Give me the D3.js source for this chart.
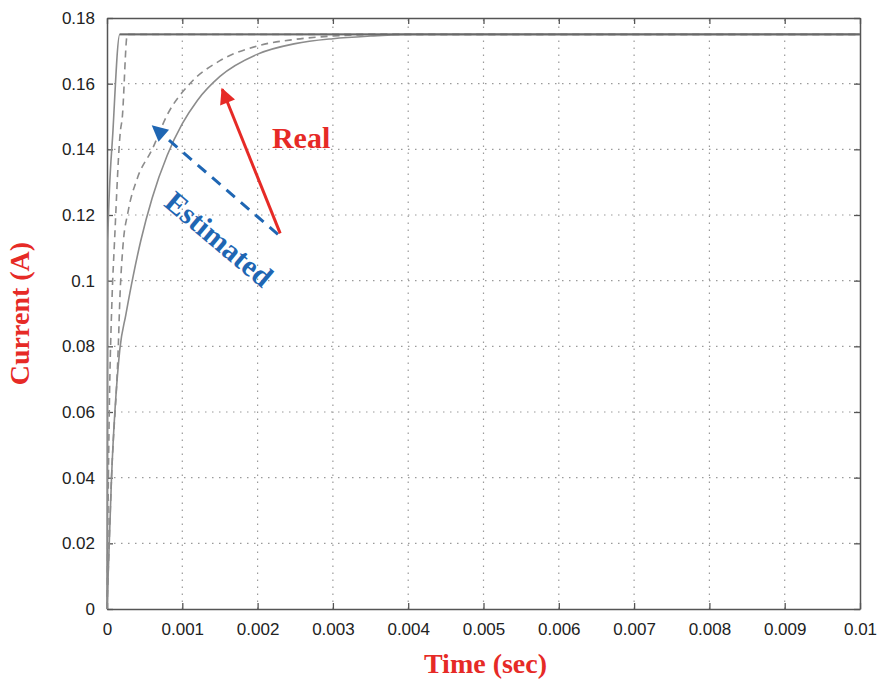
<!DOCTYPE html>
<html>
<head>
<meta charset="utf-8">
<script src="https://cdn.jsdelivr.net/npm/d3@7"></script>
<style>
  html, body { margin: 0; padding: 0; background: #fff; }
  svg { display: block; }
</style>
</head>
<body>
<svg id="chart" width="879" height="680"></svg>
<script>
// Current response of the drive: measured (solid) and observer estimates (dashed)
const xTicks = [0, 0.001, 0.002, 0.003, 0.004, 0.005, 0.006, 0.007, 0.008, 0.009, 0.01];
const yTicks = [0, 0.02, 0.04, 0.06, 0.08, 0.1, 0.12, 0.14, 0.16, 0.18];

// [time (s), current (A)]
const realFast = [[0, 0], [0.00001, 0.112], [0.00008, 0.146], [0.00017, 0.175], [0.01, 0.175]];
const estFast = [[0, 0], [0.00003, 0.06], [0.000066, 0.094], [0.0001, 0.112], [0.00018, 0.146],
                 [0.0002, 0.149], [0.00027, 0.175], [0.01, 0.175]];
const realSlow = [[0, 0], [0.00006, 0.04], [0.00017, 0.079], [0.00025, 0.0896], [0.00035, 0.1017],
                  [0.00045, 0.1123], [0.0006, 0.1252], [0.0008, 0.1382], [0.001, 0.1478],
                  [0.0012, 0.1549], [0.0015, 0.1622], [0.002, 0.169], [0.0025, 0.1722],
                  [0.003, 0.1737], [0.0035, 0.1745], [0.004, 0.175], [0.01, 0.175]];
const estSlow = [[0, 0], [0.00006, 0.04], [0.00015, 0.080], [0.00017, 0.094], [0.00021, 0.110],
                 [0.00028, 0.121], [0.0004, 0.131], [0.0006, 0.140], [0.0008, 0.1505],
                 [0.0011, 0.160], [0.0015, 0.1670], [0.002, 0.1715], [0.0025, 0.1735],
                 [0.003, 0.1745], [0.0036, 0.175], [0.01, 0.175]];

// annotation arrows: [from, to] in data units
const realArrow = [[0.00230, 0.1144], [0.00153, 0.1583]];
const estArrow = [[0.00227, 0.1141], [0.00061, 0.1470]];
const realLabel = { text: "Real", t: 0.00219, i: 0.1404 };
const estLabel = { text: "Estimated", t: 0.00149, i: 0.1127, angle: 40 };

const svg = d3.select("#chart");
const m = { left: 107, right: 19, top: 18, bottom: 71 };
const W = 879, H = 680;
const x = d3.scaleLinear().domain([0, 0.01]).range([m.left, W - m.right]);
const y = d3.scaleLinear().domain([0, 0.18]).range([H - m.bottom, m.top]);

const gridColor = "#9a9a9a";
const axisColor = "#555";

// dotted grid
const grid = svg.append("g");
grid.selectAll("line.vx").data(xTicks.slice(1, -1)).join("line")
  .attr("x1", d => x(d)).attr("x2", d => x(d))
  .attr("y1", y(0)).attr("y2", y(0.18))
  .attr("stroke", gridColor).attr("stroke-width", 1.2).attr("stroke-dasharray", "1.5,5.5");
grid.selectAll("line.hy").data(yTicks.slice(1, -1)).join("line")
  .attr("y1", d => y(d)).attr("y2", d => y(d))
  .attr("x1", x(0)).attr("x2", x(0.01))
  .attr("stroke", gridColor).attr("stroke-width", 1.2).attr("stroke-dasharray", "1.5,5.5");

// axes with inward ticks on all four sides
const fontTick = "'Liberation Sans', Arial, sans-serif";
const fmt = d => d === 0 ? "0" : String(+d.toFixed(4));
const axBottom = svg.append("g").attr("transform", `translate(0,${y(0)})`)
  .call(d3.axisBottom(x).tickValues(xTicks).tickFormat(fmt).tickSizeInner(-6).tickSizeOuter(0).tickPadding(14));
const axTop = svg.append("g").attr("transform", `translate(0,${y(0.18)})`)
  .call(d3.axisTop(x).tickValues(xTicks).tickFormat("").tickSizeInner(-6).tickSizeOuter(0));
const axLeft = svg.append("g").attr("transform", `translate(${x(0)},0)`)
  .call(d3.axisLeft(y).tickValues(yTicks).tickFormat(fmt).tickSizeInner(-6).tickSizeOuter(0).tickPadding(12));
const axRight = svg.append("g").attr("transform", `translate(${x(0.01)},0)`)
  .call(d3.axisRight(y).tickValues(yTicks).tickFormat("").tickSizeInner(-6).tickSizeOuter(0));
[axBottom, axTop, axLeft, axRight].forEach(g => {
  g.select(".domain").attr("stroke", axisColor).attr("stroke-width", 1.5);
  g.selectAll(".tick line").attr("stroke", axisColor).attr("stroke-width", 1.3);
  g.selectAll("text").attr("font-family", fontTick).attr("font-size", 17).attr("fill", "#222");
});

// response curves
const line = d3.line().x(d => x(d[0])).y(d => y(d[1])).curve(d3.curveMonotoneX);
const curveColor = "#8c8c8c";
const curves = [
  { data: realSlow, dash: null },
  { data: estSlow, dash: "7,5" },
  { data: realFast, dash: null },
  { data: estFast, dash: "7,5" }
];
svg.append("g").selectAll("path").data(curves).join("path")
  .attr("d", d => line(d.data))
  .attr("fill", "none")
  .attr("stroke", curveColor)
  .attr("stroke-width", 1.6)
  .attr("stroke-dasharray", d => d.dash);

// steady-state line drawn darker where all curves coincide
svg.append("line")
  .attr("x1", x(0.00017)).attr("x2", x(0.01))
  .attr("y1", y(0.175)).attr("y2", y(0.175))
  .attr("stroke", "#6a6a6a").attr("stroke-width", 1.8);

// annotation arrows
const defs = svg.append("defs");
function marker(id, color) {
  defs.append("marker").attr("id", id)
    .attr("viewBox", "0 0 10 10").attr("refX", 9).attr("refY", 5)
    .attr("markerUnits", "userSpaceOnUse")
    .attr("markerWidth", 20).attr("markerHeight", 16)
    .attr("orient", "auto")
    .append("path").attr("d", "M0,0 L10,5 L0,10 Z").attr("fill", color);
}
const red = "#e62a26";
const blue = "#1f66b3";
marker("headRed", red);
marker("headBlue", blue);

svg.append("line")
  .attr("x1", x(estArrow[0][0])).attr("y1", y(estArrow[0][1]))
  .attr("x2", x(estArrow[1][0])).attr("y2", y(estArrow[1][1]))
  .attr("stroke", blue).attr("stroke-width", 3).attr("stroke-dasharray", "11,8")
  .attr("marker-end", "url(#headBlue)");
svg.append("line")
  .attr("x1", x(realArrow[0][0])).attr("y1", y(realArrow[0][1]))
  .attr("x2", x(realArrow[1][0])).attr("y2", y(realArrow[1][1]))
  .attr("stroke", red).attr("stroke-width", 3)
  .attr("marker-end", "url(#headRed)");

const serif = "'Liberation Serif', 'Times New Roman', serif";
svg.append("text")
  .attr("x", x(realLabel.t)).attr("y", y(realLabel.i))
  .attr("font-family", serif).attr("font-weight", "bold").attr("font-size", 30)
  .attr("fill", red).text(realLabel.text);
svg.append("text")
  .attr("transform", `translate(${x(estLabel.t)},${y(estLabel.i)}) rotate(${estLabel.angle})`)
  .attr("text-anchor", "middle").attr("dy", "0.35em")
  .attr("font-family", serif).attr("font-weight", "bold").attr("font-size", 30)
  .attr("fill", blue).text(estLabel.text);

// axis titles
svg.append("text")
  .attr("x", (x(0) + x(0.01)) / 2 + 2).attr("y", 673)
  .attr("text-anchor", "middle")
  .attr("font-family", serif).attr("font-weight", "bold").attr("font-size", 28)
  .attr("fill", red).text("Time (sec)");
svg.append("text")
  .attr("transform", `translate(29,${(y(0) + y(0.18)) / 2}) rotate(-90)`)
  .attr("text-anchor", "middle")
  .attr("font-family", serif).attr("font-weight", "bold").attr("font-size", 28)
  .attr("fill", red).text("Current (A)");
</script>
</body>
</html>
